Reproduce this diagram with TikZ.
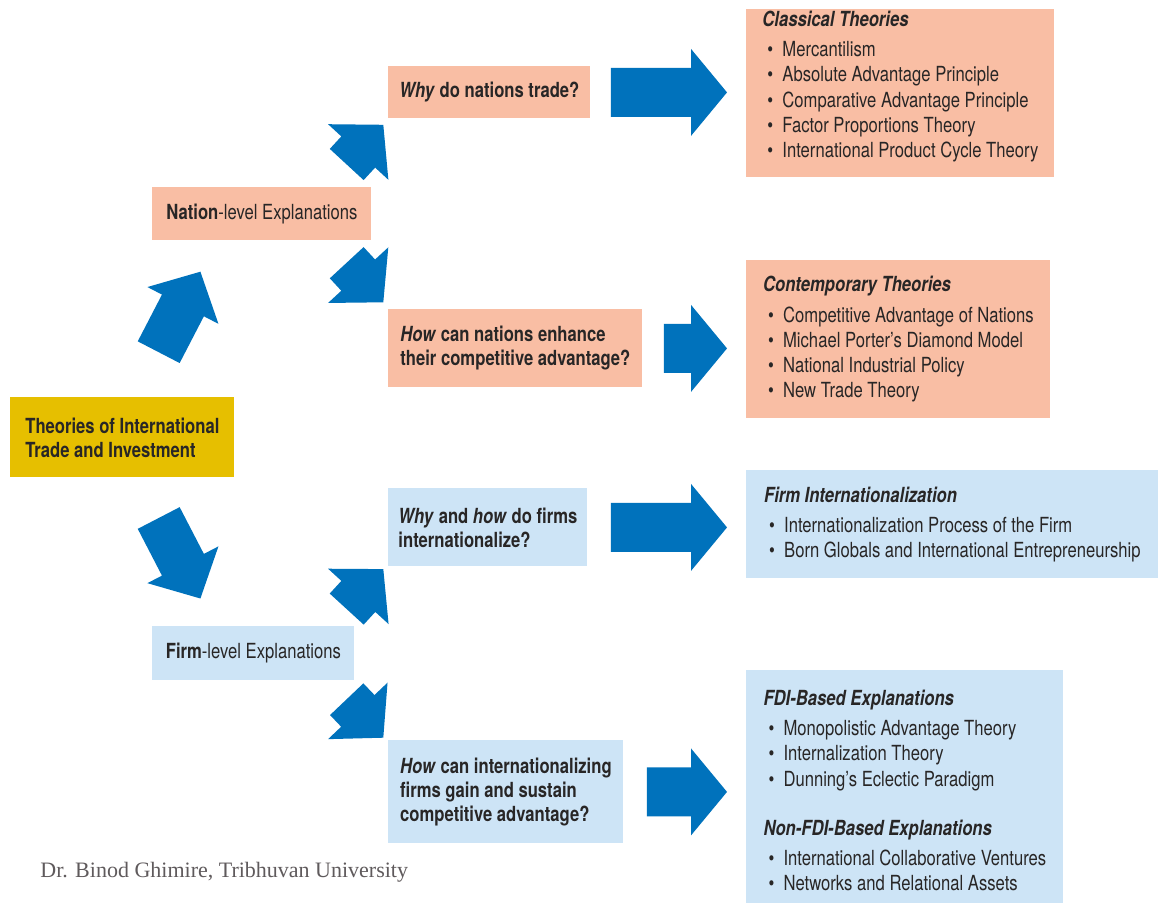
\documentclass[tikz,border=0pt]{standalone}
\usepackage{fontspec}
\setmainfont{TeX Gyre Heros}[FakeStretch=0.8]
\newfontfamily\creditfont{Liberation Serif}
\usetikzlibrary{calc}

\definecolor{arrowblue}{RGB}{0,114,188}
\definecolor{salmon}{RGB}{249,190,164}
\definecolor{paleblue}{RGB}{205,228,246}
\definecolor{gold}{RGB}{230,191,0}
\definecolor{ink}{RGB}{40,38,38}
\definecolor{creditgray}{RGB}{95,90,92}

% bullet item inside the theory lists
\newcommand\itm{\hspace*{2.5pt}\makebox[7.5pt][l]{\textbullet}}

% block arrow: #1 start, #2 tip, #3 head length, #4 head half-width, #5 shaft half-width
\newcommand\blockarrow[5]{%
  \coordinate (ba-b) at ($(#2)!#3!(#1)$);
  \fill[arrowblue] (#2)
    -- ($(ba-b)!#4!90:(#2)$) -- ($(ba-b)!#5!90:(#2)$)
    -- ($(#1)!#5!90:(#2)$) -- ($(#1)!#5!-90:(#2)$)
    -- ($(ba-b)!#5!-90:(#2)$) -- ($(ba-b)!#4!-90:(#2)$) -- cycle;
}

\begin{document}
\begin{tikzpicture}[x=0.5pt,y=-0.5pt,
  base/.style={rectangle, anchor=north west, inner sep=0pt, align=left, text=ink},
  qbox/.style={base, font=\fontsize{10.4pt}{12pt}\selectfont\bfseries},
  listbox/.style={base, font=\fontsize{10.4pt}{12.65pt}\selectfont},
  size/.style 2 args={minimum width=#1, minimum height=#2}]

\fill[white] (0,0) rectangle (1165,903);
\useasboundingbox (0,0) rectangle (1165,903);

% root and the two levels
\node[qbox, fill=gold, size={112pt}{40pt}] (root) at (10,397)
  {Theories of International\\Trade and Investment};
\node[qbox, fill=salmon, size={109.5pt}{26.5pt}] (nation) at (152,187)
  {Nation\textmd{-level Explanations}};
\node[qbox, fill=paleblue, size={101pt}{27pt}] (firm) at (152,626)
  {Firm\textmd{-level Explanations}};

% questions
\node[qbox, fill=salmon, size={101pt}{26pt}] (qwhy) at (388,66)
  {\textit{Why} do nations trade?};
\node[qbox, fill=salmon, size={127pt}{39pt}] (qhow) at (388,309)
  {\textit{How} can nations enhance\\their competitive advantage?};
\node[qbox, fill=paleblue, size={99.5pt}{39pt}] (qfirm) at (388,488)
  {\textit{Why} and \textit{how} do firms\\internationalize?};
\node[qbox, fill=paleblue, size={117.5pt}{51.5pt}] (qgain) at (388,740)
  {\textit{How} can internationalizing\\firms gain and sustain\\competitive advantage?};

% theory lists
\node[listbox, fill=salmon, size={154pt}{84pt}] (classical) at (746,9)
  {\textbf{\textit{Classical Theories}}\\[2.5pt]
   \itm Mercantilism\\
   \itm Absolute Advantage Principle\\
   \itm Comparative Advantage Principle\\
   \itm Factor Proportions Theory\\
   \itm International Product Cycle Theory\rule[-9.2pt]{0pt}{0pt}};
\node[listbox, fill=salmon, size={152pt}{79pt}] (contemp) at (746,260)
  {\textbf{\textit{Contemporary Theories}}\\[2.5pt]
   \itm Competitive Advantage of Nations\\
   \itm Michael Porter's Diamond Model\\
   \itm National Industrial Policy\\
   \itm New Trade Theory};
\node[listbox, fill=paleblue, size={206pt}{54pt}] (firmint) at (746,470)
  {\textbf{\textit{Firm Internationalization}}\\[2.5pt]
   \itm Internationalization Process of the Firm\\
   \itm Born Globals and International Entrepreneurship};
\node[listbox, fill=paleblue, size={158.5pt}{120pt}] (fdi) at (746,670)
  {\textbf{\textit{FDI-Based Explanations}}\\[2.5pt]
   \itm Monopolistic Advantage Theory\\
   \itm Internalization Theory\\
   \itm Dunning's Eclectic Paradigm\\[11.85pt]
   \textbf{\textit{Non-FDI-Based Explanations}}\\[2.5pt]
   \itm International Collaborative Ventures\\
   \itm Networks and Relational Assets};

% credit line
\node[anchor=base west, inner sep=0pt, text=creditgray,
      font=\creditfont\fontsize{11pt}{13pt}\selectfont] (credit) at (40,877)
  {Dr. Binod Ghimire, Tribhuvan University};

% arrows from the root to the two levels
\coordinate (r1s) at ($(root.north)+(36.3,-44.8)$);
\coordinate (r1t) at ($(r1s)+(41.7,-80.5)$);
\coordinate (r2s) at ($(root.south)+(36.3,40.2)$);
\coordinate (r2t) at ($(r2s)+(41.7,80.5)$);
\blockarrow{r1s}{r1t}{19pt}{20pt}{11.8pt}
\blockarrow{r2s}{r2t}{19pt}{20pt}{11.8pt}

% arrows from the levels to the questions
\coordinate (d1t) at ($(qwhy.south west)+(-4.7,6)$);
\coordinate (d1s) at ($(d1t)+(-36.6,39.7)$);
\coordinate (d2t) at ($(qhow.north west)+(-4.7,-6.7)$);
\coordinate (d2s) at ($(d2t)+(-36.6,-39.6)$);
\coordinate (d3t) at ($(qfirm.south west)+(-4.7,2.3)$);
\coordinate (d3s) at ($(d3t)+(-36.6,40)$);
\coordinate (d4t) at ($(qgain.north west)+(-4.7,-2.3)$);
\coordinate (d4s) at ($(d4t)+(-36.6,-38.5)$);
\blockarrow{d1s}{d1t}{18.5pt}{20.5pt}{11.5pt}
\blockarrow{d2s}{d2t}{18.5pt}{20.5pt}{11.5pt}
\blockarrow{d3s}{d3t}{18.5pt}{20.5pt}{11.5pt}
\blockarrow{d4s}{d4t}{18.5pt}{20.5pt}{11.5pt}

% arrows from the questions to the theories
\coordinate (a1s) at ($(qwhy.east)+(20,0)$);
\coordinate (a1t) at ($(classical.west |- qwhy.east)+(-19,0)$);
\coordinate (a2s) at ($(qhow.east)+(21,0)$);
\coordinate (a2t) at ($(contemp.west |- qhow.east)+(-19,0)$);
\coordinate (a3s) at ($(qfirm.east)+(23,0)$);
\coordinate (a3t) at ($(firmint.west |- qfirm.east)+(-19,0)$);
\coordinate (a4s) at ($(qgain.east)+(23,0)$);
\coordinate (a4t) at ($(fdi.west |- qgain.east)+(-19,0)$);
\blockarrow{a1s}{a1t}{18pt}{21.75pt}{12.25pt}
\blockarrow{a2s}{a2t}{18pt}{21.75pt}{12.25pt}
\blockarrow{a3s}{a3t}{18pt}{21.75pt}{12.25pt}
\blockarrow{a4s}{a4t}{18pt}{21.75pt}{12.25pt}

\end{tikzpicture}
\end{document}
